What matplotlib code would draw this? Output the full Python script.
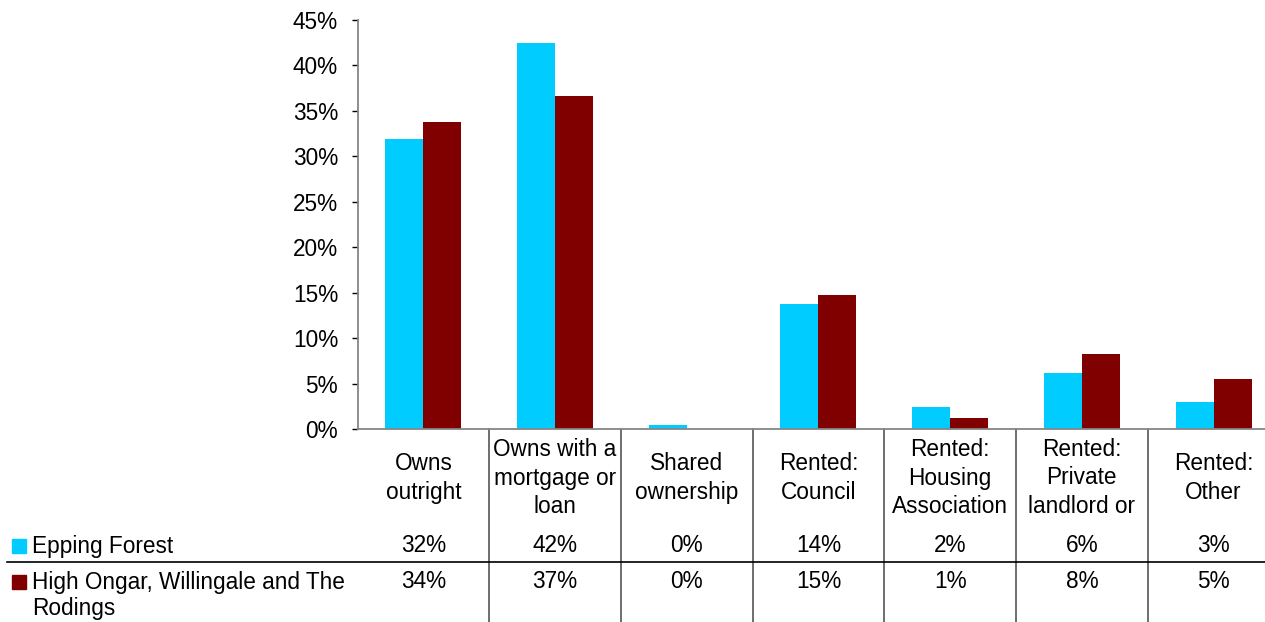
import matplotlib
matplotlib.use("Agg")
import matplotlib.pyplot as plt
from matplotlib.lines import Line2D
from matplotlib.patches import Rectangle
import numpy as np

categories = ["Owns\noutright", "Owns with a\nmortgage or\nloan", "Shared\nownership",
              "Rented:\nCouncil", "Rented:\nHousing\nAssociation", "Rented:\nPrivate\nlandlord or",
              "Rented:\nOther"]
series_names = ["Epping Forest", "High Ongar, Willingale and The\nRodings"]
epping = [31.9, 42.5, 0.4, 13.75, 2.4, 6.2, 3.0]
ongar = [33.8, 36.6, 0.0, 14.7, 1.2, 8.25, 5.5]
epping_labels = ["32%", "42%", "0%", "14%", "2%", "6%", "3%"]
ongar_labels = ["34%", "37%", "0%", "15%", "1%", "8%", "5%"]
yticks = [0, 5, 10, 15, 20, 25, 30, 35, 40, 45]

colors = ["#00CCFF", "#800000"]
axis_grey = "#868686"

plt.rcParams['font.family'] = ['Liberation Sans', 'DejaVu Sans']
FS = 16.3

W, H = 1265, 622
fig = plt.figure(figsize=(W / 100, H / 100), dpi=100)

x0_px, y0_px, ytop_px = 357.5, 429, 20
cat_w = 131.7
ax = fig.add_axes([x0_px / W, (H - y0_px) / H, (W - x0_px) / W, (y0_px - ytop_px) / H])

x = np.arange(len(categories))
bw = 38 / cat_w
ax.bar(x - bw / 2, epping, width=bw, color=colors[0], zorder=2)
ax.bar(x + bw / 2, ongar, width=bw, color=colors[1], zorder=2)

ax.set_xlim(-0.5, (W - x0_px) / cat_w - 0.5)
ax.set_ylim(0, 45)
ax.set_yticks(yticks)
ax.set_yticklabels([f"{t}%" for t in yticks], fontsize=FS)
ax.set_xticks([])
for s in ["top", "right"]:
    ax.spines[s].set_visible(False)
ax.spines["left"].set_color(axis_grey)
ax.spines["bottom"].set_color(axis_grey)
ax.spines["left"].set_linewidth(1.3)
ax.spines["bottom"].set_linewidth(1.3)
ax.tick_params(axis="y", length=4, width=1, color="black", pad=10)

tr = ax.get_xaxis_transform()
axh = y0_px - ytop_px

def ya(ypix):
    return (y0_px - ypix) / axh

# category labels
for i, c in enumerate(categories):
    ax.text(i, ya(478), c, transform=tr, ha="center", va="center", fontsize=FS,
            linespacing=1.33, clip_on=False)
    ax.text(i, ya(545), epping_labels[i], transform=tr, ha="center", va="center",
            fontsize=FS, clip_on=False)
    ax.text(i, ya(581), ongar_labels[i], transform=tr, ha="center", va="center",
            fontsize=FS, clip_on=False)

# vertical table lines
for i in range(len(categories) - 1):
    ax.add_line(Line2D([i + 0.5, i + 0.5], [0, ya(H + 2)], transform=tr, color="#555555",
                       lw=1.2, clip_on=False))

# horizontal table line
fig.add_artist(Line2D([7 / W, 1.0], [(H - 562) / H, (H - 562) / H], color="black", lw=1.2))

# legend keys and row labels
fig.add_artist(Rectangle((12 / W, (H - 553) / H), 14 / W, 14 / H, color=colors[0],
                         transform=fig.transFigure))
fig.add_artist(Rectangle((12 / W, (H - 589) / H), 14 / W, 14 / H, color=colors[1],
                         transform=fig.transFigure))
fig.text(32 / W, (H - 546) / H, series_names[0], ha="left", va="center", fontsize=FS)
fig.text(32 / W, (H - 582) / H, series_names[1].split("\n")[0], ha="left", va="center", fontsize=FS)
fig.text(32 / W, (H - 609) / H, series_names[1].split("\n")[1], ha="left", va="center", fontsize=FS)

fig.savefig("out.png", dpi=100)
